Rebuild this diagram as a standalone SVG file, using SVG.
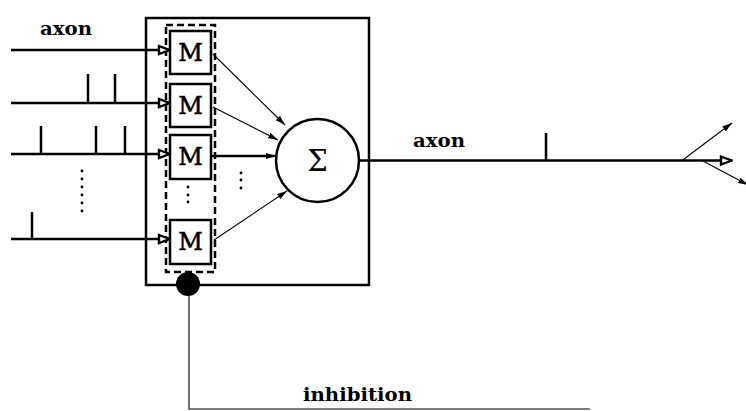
<svg xmlns="http://www.w3.org/2000/svg" width="746" height="411" viewBox="0 0 746 411">
<defs>
<marker id="open" viewBox="0 0 14 12" refX="13" refY="6" markerWidth="14" markerHeight="12" markerUnits="userSpaceOnUse" orient="auto">
<path d="M2,2 L12.5,6 L2,10 Z" fill="#fff" stroke="#000" stroke-width="2.4"/>
</marker>
<marker id="thin" viewBox="0 0 10 6" refX="10" refY="3" markerWidth="10" markerHeight="6" markerUnits="userSpaceOnUse" orient="auto">
<path d="M0,0 L10,3 L0,6 Z" fill="#000"/>
</marker>
</defs>
<style>
.thick{stroke:#000;stroke-width:2.5;fill:none}
.fine{stroke:#000;stroke-width:1.1;fill:none}
.box{stroke:#000;stroke-width:2.5;fill:#fff}
.lbl{font-family:"DejaVu Serif",serif;font-weight:bold;font-size:18px;fill:#000}
.m{font-family:"DejaVu Serif",serif;font-size:24px;fill:#000;text-anchor:middle;stroke:#000;stroke-width:0.5}
.dot{fill:#000}
</style>
<rect width="746" height="411" fill="#fff"/>
<g id="neuron">
<rect x="146" y="18" width="223" height="267" class="thick"/>
</g>
<g id="dashed-group">
<rect x="166" y="25" width="49" height="247" fill="none" stroke="#000" stroke-width="2.5" stroke-dasharray="7,4"/>
</g>
<g id="M1"><rect x="170" y="31" width="41" height="43" class="box"/><text x="190.5" y="61" class="m">M</text></g>
<g id="M2"><rect x="170" y="84" width="41" height="43" class="box"/><text x="190.5" y="114" class="m">M</text></g>
<g id="M3"><rect x="170" y="135" width="41" height="44" class="box"/><text x="190.5" y="165" class="m">M</text></g>
<g id="M4"><rect x="170" y="220" width="41" height="44" class="box"/><text x="190.5" y="250" class="m">M</text></g>
<g id="sum">
<circle cx="317.5" cy="160.5" r="41.5" fill="#fff" stroke="#000" stroke-width="2.5"/>
<text x="317.5" y="171" font-family="DejaVu Serif,serif" font-size="29" text-anchor="middle">Σ</text>
</g>
<g id="inhibitor">
<circle cx="188" cy="284" r="12" fill="#000"/>
</g>
<g id="connectors">
<line x1="11" y1="50" x2="170" y2="50" class="thick" marker-end="url(#open)"/>
<line x1="11" y1="103" x2="170" y2="103" class="thick" marker-end="url(#open)"/>
<line x1="11" y1="154" x2="170" y2="154" class="thick" marker-end="url(#open)"/>
<line x1="11" y1="239" x2="170" y2="239" class="thick" marker-end="url(#open)"/>
<path d="M88,103V74 M115,103V74 M41,154V126 M96,154V126 M125,154V126 M32,239V212" class="thick"/>
<line x1="213" y1="54" x2="285" y2="125" class="fine" marker-end="url(#thin)"/>
<line x1="213" y1="107" x2="278" y2="140" class="fine" marker-end="url(#thin)"/>
<line x1="211" y1="156" x2="276" y2="156" class="thick" marker-end="url(#thin)"/>
<line x1="214" y1="240" x2="287" y2="191" class="fine" marker-end="url(#thin)"/>
<line x1="359" y1="160.5" x2="732" y2="160.5" class="thick" marker-end="url(#open)"/>
<path d="M546,160V133" class="thick"/>
<line x1="682" y1="160.5" x2="732" y2="123" class="fine" marker-end="url(#thin)"/>
<line x1="702" y1="160.5" x2="748" y2="185" class="fine" marker-end="url(#thin)"/>
<polyline points="189,296 189,409 590,409" class="fine" stroke-width="1.6"/>
</g>
<g id="ellipses">
<circle cx="82" cy="171" r="1.4" class="dot"/><circle cx="82" cy="179" r="1.4" class="dot"/><circle cx="82" cy="187" r="1.4" class="dot"/><circle cx="82" cy="195" r="1.4" class="dot"/><circle cx="82" cy="203" r="1.4" class="dot"/><circle cx="82" cy="211" r="1.4" class="dot"/>
<circle cx="188" cy="187" r="1.4" class="dot"/><circle cx="188" cy="195" r="1.4" class="dot"/><circle cx="188" cy="202" r="1.4" class="dot"/>
<circle cx="241" cy="173" r="1.4" class="dot"/><circle cx="241" cy="180" r="1.4" class="dot"/><circle cx="241" cy="188" r="1.4" class="dot"/>
</g>
<g id="labels">
<text x="40" y="35" class="lbl" textLength="52" lengthAdjust="spacingAndGlyphs">axon</text>
<text x="413" y="147" class="lbl" textLength="52" lengthAdjust="spacingAndGlyphs">axon</text>
<text x="303" y="401" class="lbl" textLength="109" lengthAdjust="spacingAndGlyphs">inhibition</text>
</g>
</svg>
